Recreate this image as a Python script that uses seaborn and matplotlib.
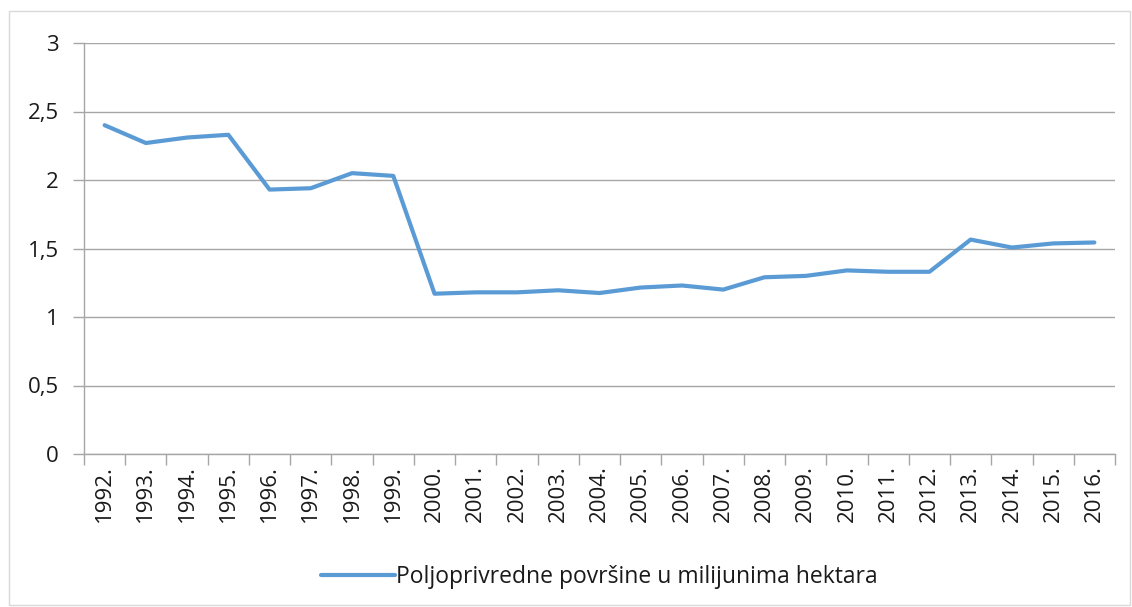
import pandas as pd
import matplotlib.pyplot as plt
import seaborn as sns
from matplotlib.patches import Rectangle

# Data
years = ["1992.", "1993.", "1994.", "1995.", "1996.", "1997.", "1998.", "1999.",
         "2000.", "2001.", "2002.", "2003.", "2004.", "2005.", "2006.", "2007.",
         "2008.", "2009.", "2010.", "2011.", "2012.", "2013.", "2014.", "2015.", "2016."]
area = [2.40, 2.27, 2.31, 2.33, 1.93, 1.94, 2.05, 2.03,
        1.17, 1.18, 1.18, 1.195, 1.175, 1.215, 1.23, 1.20,
        1.29, 1.30, 1.34, 1.33, 1.33, 1.565, 1.507, 1.537, 1.544]
series_name = "Poljoprivredne površine u milijunima hektara"
y_ticks = [0, 0.5, 1, 1.5, 2, 2.5, 3]
y_labels = ["0", "0,5", "1", "1,5", "2", "2,5", "3"]

df = pd.DataFrame({"year": years, "value": area})

sns.set_style("white")
plt.rcParams["font.family"] = ["Open Sans", "DejaVu Sans"]

fig = plt.figure(figsize=(11.32, 6.07), dpi=100)
ax = fig.add_axes([84 / 1132, 1 - 454 / 607, 1031 / 1132, 411 / 607])

sns.lineplot(data=df, x="year", y="value", color="#5B9BD5", linewidth=3,
             label=series_name, ax=ax, sort=False)

ax.set_xlim(-0.5, len(years) - 0.5)
ax.set_ylim(0, 3)
ax.set_yticks(y_ticks)
ax.set_yticklabels(y_labels, fontsize=16, color="#1a1a1a")
ax.yaxis.grid(True, color="#a6a6a6", linewidth=1)
ax.set_axisbelow(True)

ax.set_xticks(range(len(years)))
ax.set_xticklabels(years, rotation=90, fontsize=16, color="#1a1a1a")
ax.set_xticks([i + 0.5 for i in range(-1, len(years))], minor=True)
ax.tick_params(axis="x", which="major", length=0, pad=8)
ax.tick_params(axis="x", which="minor", bottom=True, length=8, color="#a6a6a6", width=1)
ax.tick_params(axis="y", left=True, length=8, color="#a6a6a6", width=1, pad=10)
ax.set_xlabel("")
ax.set_ylabel("")

for side in ["top", "right"]:
    ax.spines[side].set_visible(False)
for side in ["left", "bottom"]:
    ax.spines[side].set_color("#a6a6a6")
    ax.spines[side].set_linewidth(1)

leg = ax.legend(loc="center", bbox_to_anchor=(0.5, -0.3), frameon=False,
                fontsize=16.5, handlelength=3.2, handletextpad=0.05)
for t in leg.get_texts():
    t.set_color("#1a1a1a")

fig.patches.append(Rectangle((9 / 1132, 2 / 607), 1121 / 1132, 594 / 607,
                             transform=fig.transFigure, fill=False,
                             edgecolor="#d9d9d9", linewidth=1))

fig.savefig("out.png", dpi=100)
